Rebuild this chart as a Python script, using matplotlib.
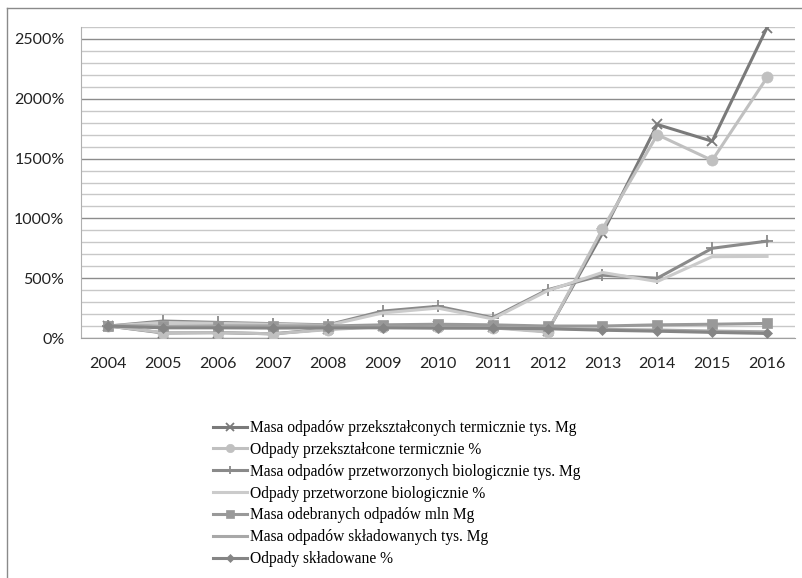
import matplotlib
matplotlib.use("Agg")
import matplotlib.pyplot as plt
from matplotlib.lines import Line2D
from matplotlib.ticker import MultipleLocator, FuncFormatter

years = ["2004", "2005", "2006", "2007", "2008", "2009", "2010",
         "2011", "2012", "2013", "2014", "2015", "2016"]

masa_termicznie = [100, 42, 45, 35, 75, 100, 100, 90, 55, 875, 1785, 1645, 2595]
proc_termicznie = [100, 45, 45, 35, 70, 95, 95, 85, 50, 910, 1700, 1485, 2178]
masa_biologicznie = [100, 142, 130, 120, 110, 225, 265, 170, 403, 525, 500, 750, 810]
proc_biologicznie = [100, 130, 122, 115, 105, 210, 250, 160, 395, 548, 472, 680, 682]
masa_odebranych = [100, 100, 100, 100, 100, 110, 115, 110, 100, 100, 110, 115, 122]
masa_skladowanych = [100, 95, 95, 93, 92, 90, 88, 87, 80, 72, 67, 58, 52]
proc_skladowane = [100, 85, 85, 83, 85, 85, 82, 82, 78, 65, 57, 47, 38]

labels = [
    "Masa odpadów przekształconych termicznie tys. Mg",
    "Odpady przekształcone termicznie %",
    "Masa odpadów przetworzonych biologicznie tys. Mg",
    "Odpady przetworzone biologicznie %",
    "Masa odebranych odpadów mln Mg",
    "Masa odpadów składowanych tys. Mg",
    "Odpady składowane %",
]
series = [masa_termicznie, proc_termicznie, masa_biologicznie, proc_biologicznie,
          masa_odebranych, masa_skladowanych, proc_skladowane]
colors = ["#7a7a7a", "#c0c0c0", "#8a8a8a", "#cbcbcb", "#999999", "#a8a8a8", "#858585"]
markers = ["x", "o", "+", None, "s", None, "D"]
msizes = [7, 8, 8, 0, 7, 0, 5]

fig = plt.figure(figsize=(8.02, 5.78), dpi=100)
ax = fig.add_axes([81 / 802, 1 - 338 / 578, (794.5 - 81) / 802, (338 - 27) / 578])

x = list(range(len(years)))
handles = []
for vals, c, m, ms, lab in zip(series, colors, markers, msizes, labels):
    ln, = ax.plot(x, vals, color=c, lw=2.2, marker=m, markersize=ms,
                  markeredgewidth=1.3 if m in ("x", "+") else 0.5,
                  markeredgecolor=c, markerfacecolor=c, label=lab, zorder=3)
    handles.append(ln)

ax.set_xlim(-0.5, len(years) - 0.5)
ax.set_ylim(0, 2600)
ax.set_xticks(x)
ax.set_xticklabels(years)
ax.yaxis.set_major_locator(MultipleLocator(500))
ax.yaxis.set_minor_locator(MultipleLocator(100))
ax.yaxis.set_major_formatter(FuncFormatter(lambda v, p: f"{int(v)}%"))
ax.grid(True, which="minor", axis="y", color="#c8c8c8", lw=1.0, zorder=0)
ax.grid(True, which="major", axis="y", color="#8c8c8c", lw=1.0, zorder=0)
ax.set_axisbelow(True)
ax.tick_params(axis="both", which="both", length=0)
ax.tick_params(axis="x", pad=14, labelsize=11.5)
ax.tick_params(axis="y", pad=12, labelsize=11.5)
for lab in ax.get_xticklabels() + ax.get_yticklabels():
    lab.set_fontfamily("Lato")
    lab.set_color("#222222")
for s in ["top", "right"]:
    ax.spines[s].set_visible(False)
ax.spines["left"].set_color("#b0b0b0")
ax.spines["bottom"].set_color("#a0a0a0")

leg = fig.legend(handles=handles, labels=labels, loc="upper left",
                 bbox_to_anchor=(213 / 802, 1 - 420 / 578), frameon=False,
                 prop={"family": "Liberation Serif", "size": 11.2},
                 handlelength=2.2, handletextpad=0.15, labelspacing=0.375,
                 markerscale=0.75,
                 borderaxespad=0, borderpad=0)

# outer chart border (left and top edges)
fig.add_artist(Line2D([7 / 802, 7 / 802], [0, 1 - 8 / 578], transform=fig.transFigure,
                      color="#8a8a8a", lw=1.0))
fig.add_artist(Line2D([7 / 802, 1], [1 - 8 / 578, 1 - 8 / 578], transform=fig.transFigure,
                      color="#8a8a8a", lw=1.0))

fig.savefig("out.png", dpi=100)
